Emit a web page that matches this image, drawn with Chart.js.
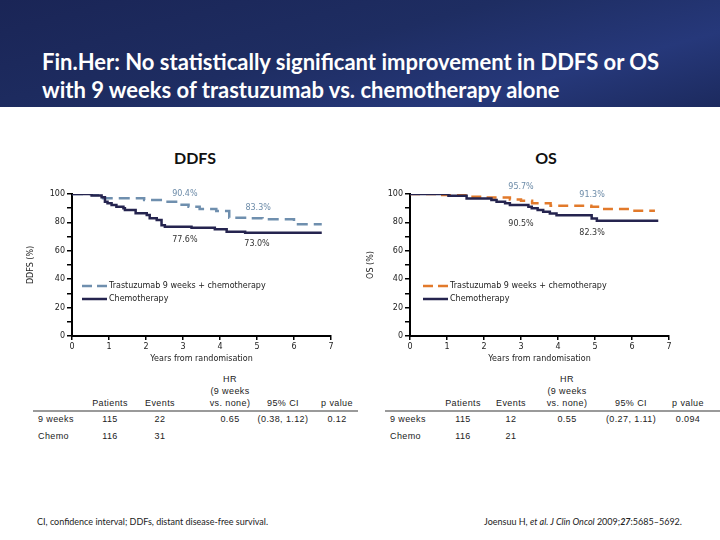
<!DOCTYPE html>
<html><head><meta charset="utf-8">
<script src="https://cdn.jsdelivr.net/npm/chart.js@4.4.0/dist/chart.umd.min.js"></script>
<style>
body{margin:0;width:720px;height:540px;overflow:hidden;background:#fff;position:relative;font-family:"Liberation Sans",Arial,sans-serif;}
#banner{position:absolute;left:0;top:0;width:720px;height:107px;background:linear-gradient(165deg,#1a2556 0%,#1e2d62 45%,#26387a 75%,#1c2a5e 100%);}
.title{position:absolute;left:42px;color:#fff;font-family:Lato,"Open Sans",sans-serif;font-weight:bold;font-size:22px;white-space:nowrap;line-height:1;}
.head{position:absolute;top:150px;font-family:Lato,"Open Sans",sans-serif;font-weight:bold;font-size:16px;color:#111;transform:translateX(-50%);line-height:1;}
.cell{position:absolute;font-size:9px;letter-spacing:0.4px;color:#222;white-space:nowrap;line-height:1;}
.c{transform:translateX(-50%);text-align:center;}
.rule{position:absolute;height:2px;background:#9a9a9a;}
.foot{position:absolute;top:517px;font-family:Lato,"Open Sans",sans-serif;font-size:9px;color:#222;white-space:nowrap;line-height:1;}
.wrap{position:absolute;}
</style></head>
<body>
<div id="banner"></div>
<div class="title" id="t1" style="top:51px">Fin.Her: No statistically significant improvement in DDFS or OS</div>
<div class="title" id="t2" style="top:79px">with 9 weeks of trastuzumab vs. chemotherapy alone</div>
<div class="head" style="left:195px">DDFS</div>
<div class="head" style="left:546px">OS</div>
<div class="wrap" style="left:20px;top:170px;width:330px;height:200px"><canvas id="c1" width="330" height="200"></canvas></div>
<div class="wrap" style="left:360px;top:170px;width:340px;height:200px"><canvas id="c2" width="340" height="200"></canvas></div>
<div id="tables"></div>
<div class="foot" style="left:37px">CI, confidence interval; DDFs, distant disease-free survival.</div>
<div class="foot" style="left:484px">Joensuu H, <i>et al. J Clin Oncol</i> 2009;<b><i>27</i></b>:5685–5692.</div>
<script>
// ---- data ----
const xTicks = [0,1,2,3,4,5,6,7];
const yTicks = [0,20,40,60,80,100];
const seriesNames = ['Trastuzumab 9 weeks + chemotherapy','Chemotherapy'];

const ddfsTrastT = [0,0.55,0.8,1.95,2.45,2.9,3.15,3.45,3.9,4.25,4.75,5.15,6.0,6.75];
const ddfsTrastS = [100,99.3,97,95.8,94.6,92.5,91,89.5,88,83.3,82.9,82.2,78.7,78.7];
const ddfsChemoT = [0,0.53,0.8,0.89,0.96,1.07,1.2,1.39,1.43,1.72,2.02,2.1,2.29,2.42,2.51,3.23,3.86,4.18,4.68,6.75];
const ddfsChemoS = [100,99,97.7,94.6,93.4,92.3,91,89.9,88.7,86.4,85.2,82.9,81.7,78,77,76.3,75.1,73.4,72.7,72.7];

const osTrastT = [0,0.8,1.5,2.0,2.7,3.0,3.3,3.8,4.9,5.25,5.95,6.62];
const osTrastS = [100,99.3,98.1,97.6,96.2,95.2,93.4,91.7,91.0,89.4,88.2,88.2];
const osChemoT = [0,1.04,1.53,2.2,2.34,2.57,2.7,3.2,3.29,3.45,3.6,3.78,3.96,4.91,5.05,6.71];
const osChemoS = [100,98.8,96.9,95.7,94.5,93.5,92.2,91,89.9,88.8,87.5,86.3,85.1,82.8,81.1,81.1];

const ddfsNoteText = ['90.4%','83.3%','77.6%','73.0%'];
const osNoteText = ['95.7%','91.3%','90.5%','82.3%'];

const tableHead = ['Patients','Events','HR|(9 weeks|vs. none)','95% CI','p value'];
const rowNames = ['9 weeks','Chemo'];
const ddfsRow1 = ['115','22','0.65','(0.38, 1.12)','0.12'];
const ddfsRow2 = ['116','31','','',''];
const osRow1 = ['115','12','0.55','(0.27, 1.11)','0.094'];
const osRow2 = ['116','21','','',''];

// ---- helpers ----
const pts = (T,S) => T.map((t,i)=>({x:t,y:S[i]}));
const TEXT = '#222';
const tickFont = {family:'DejaVu Sans',size:8};

const overlay = {
  id:'overlay',
  afterDatasetsDraw(chart, args, opts){
    const ctx = chart.ctx, xs = chart.scales.x, ys = chart.scales.y, ca = chart.chartArea;
    ctx.save();
    ctx.font = '8px "DejaVu Sans"';
    ctx.textAlign = 'center'; ctx.textBaseline = 'middle';
    opts.notes.forEach(n=>{
      ctx.fillStyle = n.color;
      ctx.fillText(n.text, xs.getPixelForValue(n.x), ys.getPixelForValue(n.y));
    });
    opts.legend.forEach((l,i)=>{
      const y = ca.top + opts.top + i*13;
      const x0 = ca.left + opts.left;
      ctx.strokeStyle = l.color; ctx.lineWidth = 2.5; ctx.setLineDash(l.dash);
      ctx.beginPath(); ctx.moveTo(x0,y); ctx.lineTo(x0+25,y); ctx.stroke();
      ctx.setLineDash([]);
      ctx.fillStyle = TEXT; ctx.textAlign = 'left';
      ctx.fillText(l.text, x0+27, y);
    });
    ctx.restore();
  }
};

function scales(yTitle, yWidth){
  return {
    x:{type:'linear',min:0,max:7,
      ticks:{stepSize:1,font:tickFont,color:TEXT,padding:2,maxRotation:0,
        callback:v=>xTicks.includes(v)?String(v):''},
      grid:{drawOnChartArea:false,drawTicks:true,tickLength:4,color:'#000',lineWidth:1.5},
      border:{display:true,color:'#000',width:2},
      title:{display:true,text:'Years from randomisation',font:tickFont,color:TEXT,padding:{top:0,bottom:6}},
      afterFit(s){s.height=34;}
    },
    y:{type:'linear',min:0,max:100,
      ticks:{stepSize:10,autoSkip:false,font:tickFont,color:TEXT,padding:2,
        callback:v=>yTicks.includes(v)?String(v):''},
      grid:{drawOnChartArea:false,drawTicks:true,tickLength:5,color:'#000',lineWidth:1.5},
      border:{display:true,color:'#000',width:2},
      title:{display:true,text:yTitle,font:tickFont,color:TEXT,padding:{top:6,bottom:0}},
      afterFit(s){s.width=yWidth;}
    }
  };
}

function ds(data,color,dash){
  return {data,borderColor:color,borderWidth:2.5,borderDash:dash,stepped:'before',
    pointRadius:0,fill:false,tension:0};
}

const NAVY = '#25244f', STEEL = '#6f8fae', ORANGE = '#e27a2b', NOTE = '#6c8ba8';

new Chart(document.getElementById('c1'),{
  type:'line',
  data:{datasets:[
    ds(pts(ddfsChemoT,ddfsChemoS),NAVY,[]),
    ds(pts(ddfsTrastT,ddfsTrastS),STEEL,[11,6])
  ]},
  options:{responsive:false,animation:false,
    layout:{padding:{top:24,right:19,left:0,bottom:0}},
    scales:scales('DDFS (%)',52),
    plugins:{legend:{display:false},tooltip:{enabled:false},
      overlay:{
        notes:[
          {text:ddfsNoteText[0],x:3.05,y:100,color:NOTE},
          {text:ddfsNoteText[1],x:5.03,y:90.1,color:NOTE},
          {text:ddfsNoteText[2],x:3.05,y:67.6,color:'#333'},
          {text:ddfsNoteText[3],x:5.0,y:64.8,color:'#333'}],
        legend:[{text:seriesNames[0],color:STEEL,dash:[10,5]},{text:seriesNames[1],color:NAVY,dash:[]}],
        left:10,top:92}
    }},
  plugins:[overlay]
});

new Chart(document.getElementById('c2'),{
  type:'line',
  data:{datasets:[
    ds(pts(osChemoT,osChemoS),NAVY,[]),
    ds(pts(osTrastT,osTrastS),ORANGE,[10,6])
  ]},
  options:{responsive:false,animation:false,
    layout:{padding:{top:24,right:31,left:0,bottom:0}},
    scales:scales('OS (%)',50),
    plugins:{legend:{display:false},tooltip:{enabled:false},
      overlay:{
        notes:[
          {text:osNoteText[0],x:3.0,y:104.7,color:NOTE},
          {text:osNoteText[1],x:4.92,y:99,color:NOTE},
          {text:osNoteText[2],x:3.0,y:79.2,color:'#333'},
          {text:osNoteText[3],x:4.92,y:72.8,color:'#333'}],
        legend:[{text:seriesNames[0],color:ORANGE,dash:[10,5]},{text:seriesNames[1],color:NAVY,dash:[]}],
        left:13,top:92}
    }},
  plugins:[overlay]
});

// ---- tables ----
function table(labelX, colX, r1, r2, ruleX, ruleW){
  const host = document.getElementById('tables');
  const add = (txt, x, y, center) => {
    const d = document.createElement('div');
    d.className = 'cell' + (center?' c':'');
    d.style.left = x+'px'; d.style.top = (y-5)+'px';
    d.textContent = txt; host.appendChild(d);
  };
  tableHead.forEach((h,i)=>{
    const parts = h.split('|');
    parts.forEach((p,j)=> add(p, colX[i], 404 - (parts.length-1-j)*12, true));
  });
  const rule = document.createElement('div');
  rule.className = 'rule'; rule.style.left = ruleX+'px'; rule.style.width = ruleW+'px'; rule.style.top = '410px';
  host.appendChild(rule);
  add(rowNames[0], labelX, 420, false);
  add(rowNames[1], labelX, 437, false);
  r1.forEach((v,i)=>{ if(v) add(v, colX[i], 420, true); });
  r2.forEach((v,i)=>{ if(v) add(v, colX[i], 437, true); });
}
table(38,[110,160,230,283,337],ddfsRow1,ddfsRow2,33,325);
table(390,[463,511,567,631,688],osRow1,osRow2,385,335);
</script>
</body></html>
